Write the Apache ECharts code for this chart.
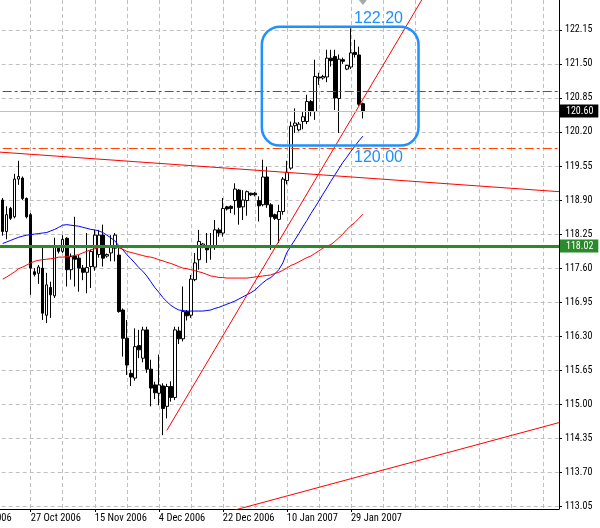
<!DOCTYPE html>
<html>
<head>
<meta charset="utf-8">
<script src="https://cdn.jsdelivr.net/npm/echarts@6/dist/echarts.min.js"></script>
<style>html,body{margin:0;padding:0;background:#fff}#c{width:600px;height:528px}</style>
</head>
<body>
<div id="c"></div>
<script>
// ---------- data ----------
const FONT = "'Roboto Condensed', 'Liberation Sans', sans-serif";
const firstDay = [2006, 9, 9];          // first category: 9 Oct 2006 (Saturdays absent, Sundays present)
const categoryCount = 149;
const candleStart = 9;                  // category index of 19 Oct 2006
const xTickLabels = ['9 Oct 2006', '27 Oct 2006', '15 Nov 2006', '4 Dec 2006', '22 Dec 2006', '10 Jan 2007', '29 Jan 2007'];
const yTickValues = [113.05, 113.70, 114.35, 115.00, 115.65, 116.30, 116.95, 117.60, 118.25, 118.90, 119.55, 120.20, 120.85, 121.50, 122.15];
const yRange = [113.00, 122.72];

const opens = [
118.90,118.30,118.74,118.58,119.30,119.32,118.93,118.62,117.53,117.50,
117.60,116.70,117.23,117.07,118.01,117.92,118.17,117.57,117.83,117.79,
117.60,117.52,117.63,117.62,117.86,118.23,117.83,117.89,117.98,117.85,
116.80,116.26,115.59,115.50,116.12,115.88,116.42,115.67,115.37,115.21,
115.35,114.96,115.34,115.13,116.40,116.25,116.77,116.70,117.38,117.76,
118.01,118.00,117.99,118.01,118.33,118.27,118.77,118.78,118.89,119.09,
118.77,118.89,119.03,119.03,118.89,118.81,119.34,118.81,118.62,118.53,
118.68,119.27,119.51,120.32,120.24,120.40,120.40,120.78,120.59,121.25,
121.23,121.25,121.61,121.64,120.84,121.58,121.40,121.44,121.72,121.67,
120.74];
const highs = [
118.94,118.78,118.77,119.40,119.65,119.35,118.95,118.65,117.60,117.66,
118.01,117.51,117.34,118.18,118.04,118.23,118.19,117.88,118.58,117.85,
117.66,118.27,117.95,118.33,118.33,118.43,117.88,118.23,118.27,118.02,
116.83,116.61,115.66,116.45,116.42,116.48,116.48,115.85,115.43,115.95,
115.40,115.39,115.44,116.48,116.48,117.25,116.80,117.47,117.89,118.33,
118.08,118.27,118.27,118.52,118.37,118.94,118.79,118.80,119.22,119.11,
119.09,119.08,119.04,119.05,118.97,119.67,119.54,118.84,118.64,118.81,
119.34,119.65,120.40,120.65,120.39,120.58,120.91,120.81,121.58,121.33,
121.29,121.77,121.77,121.77,121.68,121.62,121.48,122.18,121.96,121.83,
120.76];
const lows = [
118.22,118.15,118.52,118.55,119.19,118.90,118.55,117.09,117.44,117.30,
116.61,116.55,116.65,117.03,117.88,117.89,117.25,117.38,117.25,117.15,
117.37,117.12,117.22,117.55,117.80,117.63,117.80,117.73,117.73,116.75,
115.91,115.56,115.35,115.45,115.88,115.80,115.60,114.96,115.10,114.98,
114.41,114.73,115.05,115.08,116.15,116.20,116.60,116.65,117.35,117.57,
117.98,117.70,117.76,117.95,118.20,118.20,118.70,118.65,118.62,118.43,
118.52,118.60,118.98,118.97,118.49,118.78,118.75,117.95,118.52,118.08,
118.62,119.20,119.48,120.18,120.21,120.25,120.35,120.50,120.43,121.10,
121.20,121.15,121.45,120.62,120.18,121.50,121.38,121.40,121.62,120.70,
120.46];
const closes = [
118.30,118.62,118.55,119.30,119.35,118.93,118.58,117.60,117.48,117.62,
116.74,117.28,117.09,118.01,117.92,118.15,117.57,117.82,117.77,117.60,
117.52,117.61,117.92,118.23,118.23,117.79,117.86,118.01,118.23,116.77,
116.26,115.75,115.52,116.10,116.04,116.42,115.67,115.31,115.22,115.37,
114.92,115.34,115.13,116.42,116.25,116.77,116.69,117.39,117.70,118.11,
118.06,117.95,118.02,118.33,118.27,118.74,118.73,118.74,119.11,118.76,
118.90,119.06,119.00,119.00,118.79,119.34,118.81,118.58,118.55,118.68,
119.30,119.43,120.31,120.37,120.35,120.49,120.78,120.59,121.26,121.23,
121.26,121.61,121.56,120.85,121.59,121.55,121.47,121.71,121.68,120.73,
120.59];
const maFast = [
118.07,118.10,118.13,118.16,118.19,118.21,118.23,118.24,118.25,118.26,
118.27,118.28,118.31,118.34,118.38,118.42,118.43,118.42,118.41,118.40,
118.38,118.36,118.34,118.33,118.31,118.28,118.23,118.18,118.12,118.03,
117.95,117.86,117.78,117.70,117.61,117.54,117.45,117.34,117.23,117.14,
117.04,116.96,116.89,116.84,116.80,116.79,116.78,116.78,116.78,116.78,
116.78,116.79,116.80,116.83,116.85,116.88,116.91,116.94,116.97,117.01,
117.05,117.09,117.13,117.18,117.25,117.32,117.38,117.42,117.49,117.57,
117.70,117.90,118.02,118.14,118.26,118.39,118.51,118.64,118.76,118.88,
119.01,119.13,119.26,119.38,119.50,119.62,119.72,119.83,119.93,120.03,
120.12];
const maSlow = [
117.39,117.43,117.48,117.53,117.59,117.62,117.66,117.70,117.73,117.75,
117.76,117.77,117.78,117.79,117.81,117.81,117.82,117.83,117.84,117.86,
117.89,117.92,117.95,117.97,117.99,118.00,118.01,118.01,118.01,117.99,
117.96,117.92,117.90,117.88,117.86,117.84,117.82,117.81,117.79,117.76,
117.74,117.71,117.69,117.66,117.63,117.60,117.59,117.57,117.55,117.53,
117.51,117.48,117.45,117.44,117.42,117.42,117.41,117.41,117.41,117.41,
117.41,117.41,117.42,117.43,117.44,117.45,117.46,117.47,117.50,117.52,
117.56,117.60,117.65,117.68,117.72,117.76,117.80,117.83,117.88,117.93,
117.98,118.02,118.05,118.11,118.18,118.25,118.34,118.41,118.47,118.55,
118.63];

// horizontal levels
const supportLevel = 118.02;
const bidPrice = 120.60;
const upperDashLevel = 120.97;
const lowerDashLevel = 119.89;
// trend lines: [categoryIndex, price] end points
const trendUpper = [[0, 119.86], [148, 119.06]];
const trendSteep = [[50, 114.50], [114, 122.76]];
const trendLower = [[66, 112.96], [148, 114.65]];
// annotation box
const boxX = [73.75, 112.9];
const boxY = [122.21, 119.94];
const boxTextX = 102.9;
const boxTextY = [122.36, 119.71];
const boxTexts = ['122.20', '120.00'];
const shiftMarkIndex = 99;

// ---------- build ----------
const MONTHS = ['Jan','Feb','Mar','Apr','May','Jun','Jul','Aug','Sep','Oct','Nov','Dec'];
const categories = [];
(function () {
  let t = Date.UTC(firstDay[0], firstDay[1], firstDay[2]);
  while (categories.length < categoryCount) {
    const d = new Date(t);
    if (d.getUTCDay() !== 6) categories.push(d.getUTCDate() + ' ' + MONTHS[d.getUTCMonth()] + ' ' + d.getUTCFullYear());
    t += 86400000;
  }
})();

const candleData = categories.map(function (c, k) {
  const i = k - candleStart;
  if (i < 0 || i >= opens.length) return ['-', '-', '-', '-'];
  return [opens[i], closes[i], lows[i], highs[i]];
});
const pairs = arr => arr.map((v, i) => [i + candleStart, v]);
const isTick = (idx, val) => xTickLabels.indexOf(val) >= 0;

const GRID = '#c0c0c0';
const chart = echarts.init(document.getElementById('c'), null, {renderer: 'canvas'});

function lerpCoord(api, k, v) {
  const k0 = Math.floor(k), f = k - k0;
  const a = api.coord([k0, v]), b = api.coord([k0 + 1, v]);
  return [a[0] + (b[0] - a[0]) * f, a[1]];
}

const option = {
  animation: false,
  backgroundColor: '#ffffff',
  textStyle: {fontFamily: FONT},
  grid: {left: -33.3, right: 41, top: 0, bottom: 19, containLabel: false, outerBoundsMode: 'none'},
  xAxis: {
    type: 'category', data: categories, boundaryGap: false,
    axisLine: {show: true, onZero: false, lineStyle: {color: '#000', width: 1}},
    axisTick: {show: true, interval: isTick, length: 3, lineStyle: {color: '#000'}},
    axisLabel: {interval: isTick, align: 'left', color: '#000', fontSize: 10.5, margin: 4, fontFamily: FONT, hideOverlap: false},
    splitLine: {show: true, interval: idx => idx % 8 === 0, lineStyle: {color: GRID, width: 1, type: [4, 3]}}
  },
  yAxis: {
    type: 'value', position: 'right', min: yRange[0], max: yRange[1],
    axisLine: {show: true, lineStyle: {color: '#000', width: 1}},
    axisTick: {show: true, length: 3, customValues: yTickValues, lineStyle: {color: '#000'}},
    axisLabel: {customValues: yTickValues, formatter: v => v.toFixed(2), color: '#000', fontSize: 10, margin: 6, fontFamily: FONT},
    splitLine: {show: true, lineStyle: {color: GRID, width: 1, type: [4, 3]}}
  },
  series: [
    {
      type: 'candlestick', data: candleData, barWidth: 3, z: 2,
      itemStyle: {color: '#ffffff', color0: '#000000', borderColor: '#000000', borderColor0: '#000000', borderWidth: 1},
      markPoint: {
        silent: true, symbol: 'triangle', symbolRotate: 180, symbolSize: [8, 5], symbolOffset: [0, 2.5],
        itemStyle: {color: '#a8a8a8'}, label: {show: false},
        data: [{coord: [shiftMarkIndex, yRange[1]]}]
      }
    },
    {type: 'line', data: pairs(maFast), symbol: 'none', z: 3, lineStyle: {color: '#0000ff', width: 1}},
    {type: 'line', data: pairs(maSlow), symbol: 'none', z: 3, lineStyle: {color: '#ff0000', width: 1}},
    {type: 'line', data: trendUpper, symbol: 'none', z: 4, lineStyle: {color: '#ff0000', width: 1}},
    {type: 'line', data: trendSteep, symbol: 'none', z: 4, lineStyle: {color: '#ff0000', width: 1}},
    {type: 'line', data: trendLower, symbol: 'none', z: 4, lineStyle: {color: '#ff0000', width: 1}},
    {
      type: 'line', data: [], z: 5,
      markLine: {
        silent: true, symbol: 'none', animation: false,
        data: [
          {yAxis: bidPrice, lineStyle: {color: '#c0c0c0', width: 1, type: 'solid'},
           label: {show: true, position: 'end', distance: 1, formatter: p => p.value.toFixed(2), color: '#fff', backgroundColor: '#000', padding: [2, 5, 1, 6], fontSize: 10, fontFamily: FONT}},
          {yAxis: upperDashLevel, lineStyle: {color: '#009000', width: 1, type: [9, 3, 3, 3]}, label: {show: false}},
          {yAxis: lowerDashLevel, lineStyle: {color: '#ff4500', width: 1, type: [9, 3, 3, 3]}, label: {show: false}},
          {yAxis: supportLevel, lineStyle: {color: '#2b8a2b', width: 3, type: 'solid'},
           label: {show: true, position: 'end', distance: 1, formatter: p => p.value.toFixed(2), color: '#fff', backgroundColor: '#2b8a2b', padding: [2, 5, 1, 6], fontSize: 10, fontFamily: FONT}}
        ]
      }
    },
    {
      type: 'custom', z: 6, silent: true,
      data: [[boxX[0], boxY[0], boxX[1], boxY[1]]],
      renderItem: function (params, api) {
        const a = lerpCoord(api, api.value(0), api.value(1));
        const b = lerpCoord(api, api.value(2), api.value(3));
        const t1 = lerpCoord(api, boxTextX, boxTextY[0]);
        const t2 = lerpCoord(api, boxTextX, boxTextY[1]);
        return {
          type: 'group',
          children: [
            {type: 'rect', shape: {x: a[0], y: a[1], width: b[0] - a[0], height: b[1] - a[1], r: 18},
             style: {fill: null, stroke: '#1e90ff', lineWidth: 2.5}},
            {type: 'text', x: t1[0], y: t1[1], style: {text: boxTexts[0], fill: '#1e90ff', font: "16px 'Liberation Sans', sans-serif", align: 'center', verticalAlign: 'middle'}},
            {type: 'text', x: t2[0], y: t2[1], style: {text: boxTexts[1], fill: '#1e90ff', font: "16px 'Liberation Sans', sans-serif", align: 'center', verticalAlign: 'middle'}}
          ]
        };
      }
    }
  ]
};
chart.setOption(option);
</script>
</body>
</html>
